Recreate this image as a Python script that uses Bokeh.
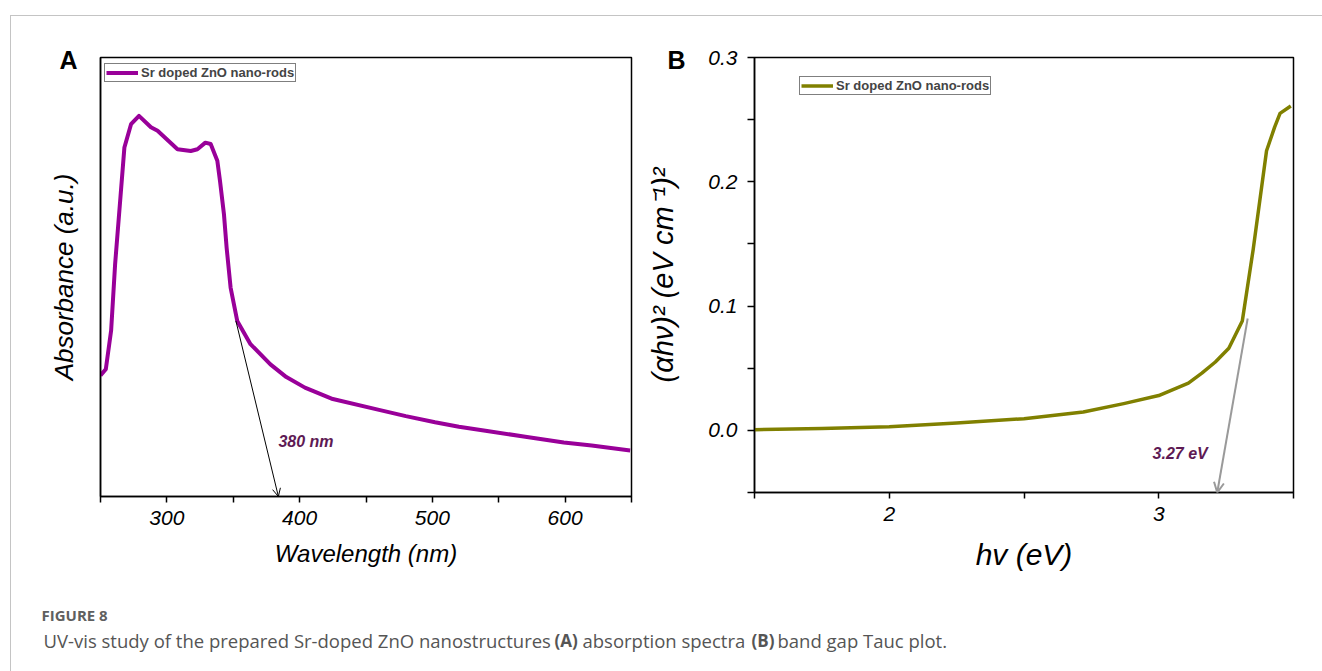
from bokeh.plotting import figure
from bokeh.models import (Range1d, FixedTicker, Label, Arrow, OpenHead, Legend,
                          LegendItem, PrintfTickFormatter, Div, Spacer)
from bokeh.layouts import row, column
from bokeh.embed import file_html
from bokeh.resources import INLINE

# ---------------- data ----------------
# Panel A: absorption spectrum
wavelength_nm = [250, 254, 258, 261, 265, 268, 273, 279, 288, 293, 308, 318, 323,
                 329, 333, 338, 340, 343, 345, 348, 353, 363, 378, 390, 404, 425,
                 459, 480, 502, 520, 540, 570, 599, 620, 649]
absorbance_au = [0.276, 0.290, 0.378, 0.529, 0.681, 0.795, 0.848, 0.867, 0.841, 0.833,
                 0.791, 0.787, 0.791, 0.806, 0.803, 0.765, 0.719, 0.643, 0.567, 0.476,
                 0.400, 0.347, 0.301, 0.272, 0.248, 0.222, 0.198, 0.183, 0.169, 0.159,
                 0.150, 0.136, 0.123, 0.116, 0.105]

# Panel B: Tauc plot
photon_energy_ev = [1.50, 1.75, 2.00, 2.25, 2.50, 2.72, 2.87, 3.00, 3.11, 3.16, 3.21,
                    3.26, 3.31, 3.35, 3.40, 3.43, 3.45, 3.49]
tauc_value = [0.0005, 0.0015, 0.003, 0.006, 0.0094, 0.0147, 0.0215, 0.028, 0.038,
              0.046, 0.055, 0.066, 0.088, 0.145, 0.225, 0.244, 0.255, 0.261]

series_label = "Sr doped ZnO nano-rods"
panel_letters = ["A", "B"]

x_major_a = [300, 400, 500, 600]
x_minor_a = [250, 350, 450, 550, 650]
x_major_b = [2, 3]
x_minor_b = [1.5, 2.5, 3.5]
y_major_b = [0.0, 0.1, 0.2, 0.3]
y_minor_b = [-0.05, 0.05, 0.15, 0.25]

# band-edge tangent arrows (start x, start y, end x, end y) and their labels
edge_arrow_a = (352, 0.40, 384, 0.0)
edge_text_a = ("380 nm", 384, 0.125)
edge_arrow_b = (3.33, 0.09, 3.217, -0.05)
edge_text_b = ("3.27 eV", 2.977, -0.019)

FONT = "Liberation Sans"
PURPLE = "#990099"
OLIVE = "#808000"
NOTE = "#5e1a54"


def style_common(p):
    p.xgrid.grid_line_color = None
    p.ygrid.grid_line_color = None
    p.outline_line_color = "black"
    p.outline_line_width = 1.5
    p.outline_line_alpha = 1
    p.background_fill_color = "white"
    p.border_fill_color = "white"
    for ax in (p.xaxis[0], p.yaxis[0]):
        ax.axis_line_color = "black"
        ax.axis_line_width = 1.5
        ax.major_tick_line_color = "black"
        ax.minor_tick_line_color = "black"
        ax.major_tick_line_width = 1.5
        ax.minor_tick_line_width = 1.5
        ax.major_tick_in = 0
        ax.minor_tick_in = 0
        ax.major_tick_out = 6
        ax.minor_tick_out = 6
        ax.major_label_text_font = FONT
        ax.major_label_text_font_style = "italic"
        ax.major_label_text_font_size = "21px"
        ax.major_label_text_color = "black"
        ax.axis_label_text_font = FONT
        ax.axis_label_text_font_style = "italic"
        ax.axis_label_text_color = "black"


def style_letter(p, offset):
    t = p.title
    t.align = "left"
    t.offset = offset
    t.vertical_align = "bottom"
    t.standoff = -32
    t.text_font = FONT
    t.text_font_style = "bold"
    t.text_font_size = "25px"
    t.text_color = "black"


def make_legend(p, r, loc):
    leg = Legend(items=[LegendItem(label=series_label, renderers=[r])], location=loc)
    leg.border_line_color = "black"
    leg.border_line_width = 1
    leg.background_fill_color = "white"
    leg.background_fill_alpha = 1
    leg.label_text_font = FONT
    leg.label_text_font_style = "bold"
    leg.label_text_font_size = "13px"
    leg.glyph_width = 32
    leg.glyph_height = 15
    leg.label_height = 15
    leg.label_standoff = 3
    leg.padding = 1
    leg.spacing = 0
    leg.margin = 0
    p.add_layout(leg)


# ---------------- Panel A ----------------
pa = figure(title=panel_letters[0], frame_width=531, frame_height=439,
            min_border_left=89, min_border_right=9,
            min_border_top=34, min_border_bottom=101,
            x_range=Range1d(250, 650), y_range=Range1d(0, 1),
            output_backend="svg", toolbar_location=None, tools="")
style_common(pa)
style_letter(pa, -41)
pa.xaxis.ticker = FixedTicker(ticks=x_major_a, minor_ticks=x_minor_a)
pa.xaxis.major_label_standoff = 8
pa.xaxis.axis_label = "Wavelength (nm)"
pa.xaxis.axis_label_text_font_size = "24px"
pa.xaxis.axis_label_standoff = 12
pa.yaxis.ticker = FixedTicker(ticks=[])
pa.yaxis.major_tick_out = 0
pa.yaxis.minor_tick_out = 0
pa.yaxis.axis_label = "Absorbance (a.u.)"
pa.yaxis.axis_label_text_font_size = "26px"
pa.yaxis.axis_label_standoff = 22

ra = pa.line(wavelength_nm, absorbance_au, line_color=PURPLE, line_width=4,
             line_join="round")
make_legend(pa, ra, (4, 414))

pa.add_layout(Arrow(x_start=edge_arrow_a[0], y_start=edge_arrow_a[1],
                    x_end=edge_arrow_a[2], y_end=edge_arrow_a[3],
                    line_color="black", line_width=1,
                    end=OpenHead(size=8, line_color="black", line_width=1)))
pa.add_layout(Label(x=edge_text_a[1], y=edge_text_a[2], text=edge_text_a[0],
                    text_font=FONT, text_font_style="bold italic",
                    text_font_size="16px", text_color=NOTE,
                    text_baseline="middle", text_align="left"))

# ---------------- Panel B ----------------
pb = figure(title=panel_letters[1], frame_width=539, frame_height=435,
            min_border_left=114, min_border_right=29,
            min_border_top=41, min_border_bottom=98,
            x_range=Range1d(1.5, 3.5), y_range=Range1d(-0.05, 0.3),
            output_backend="svg", toolbar_location=None, tools="")
style_common(pb)
style_letter(pb, -87)
pb.xaxis.ticker = FixedTicker(ticks=x_major_b, minor_ticks=x_minor_b)
pb.xaxis.major_label_standoff = 8
pb.xaxis.axis_label = "hv (eV)"
pb.xaxis.axis_label_text_font_size = "30px"
pb.xaxis.axis_label_standoff = 14
pb.yaxis.ticker = FixedTicker(ticks=y_major_b, minor_ticks=y_minor_b)
pb.yaxis.formatter = PrintfTickFormatter(format="%.1f")
pb.yaxis.major_tick_out = 7
pb.yaxis.minor_tick_out = 7
pb.yaxis.major_label_standoff = 10
pb.yaxis.axis_label = "(\u03b1h\u03bd)\u00b2 (eV cm\u207b\u00b9)\u00b2"
pb.yaxis.axis_label_text_font_size = "29px"
pb.yaxis.axis_label_standoff = 26

rb = pb.line(photon_energy_ev, tauc_value, line_color=OLIVE, line_width=3.5,
             line_join="round")
make_legend(pb, rb, (45, 397))

pb.add_layout(Arrow(x_start=edge_arrow_b[0], y_start=edge_arrow_b[1],
                    x_end=edge_arrow_b[2], y_end=edge_arrow_b[3],
                    line_color="#9a9a9a", line_width=2,
                    end=OpenHead(size=10, line_color="#9a9a9a", line_width=2)))
pb.add_layout(Label(x=edge_text_b[1], y=edge_text_b[2], text=edge_text_b[0],
                    text_font=FONT, text_font_style="bold italic",
                    text_font_size="16px", text_color=NOTE,
                    text_baseline="middle", text_align="left"))

# ---------------- caption ----------------
cap = figure(width=1311, height=81, x_range=Range1d(0, 1), y_range=Range1d(0, 1),
             x_axis_location=None, y_axis_location=None, toolbar_location=None,
             tools="", output_backend="svg", min_border=0,
             outline_line_color=None)
cap.xgrid.grid_line_color = None
cap.ygrid.grid_line_color = None
CAPF = "Open Sans"
cap.add_layout(Label(x=30, y=57, x_units="screen", y_units="screen", text="FIGURE 8",
                     text_font=CAPF, text_font_size="15px", text_font_style="bold",
                     text_color="#5f5f5f", text_baseline="middle"))
segments = [("UV-vis study of the prepared Sr-doped ZnO nanostructures", 32, "normal", "18.5px"),
            ("(A)", 543, "bold", "17px"),
            ("absorption spectra", 571, "normal", "18.5px"),
            ("(B)", 740, "bold", "17px"),
            ("band gap Tauc plot.", 766, "normal", "18.5px")]
for txt, xs, st, fs in segments:
    cap.add_layout(Label(x=xs, y=31, x_units="screen", y_units="screen", text=txt,
                         text_font=CAPF, text_font_size=fs, text_font_style=st,
                         text_color="#555555", text_baseline="middle"))

# ---------------- page frame lines ----------------
LINE = "#c4c4c4"
hline = Div(text="", width=1311, height=1, margin=0, styles={"background-color": LINE})
vline = Div(text="", width=1, height=656, margin=0, styles={"background-color": LINE})

root = column(Spacer(height=15, width=1322, margin=0),
              row(Spacer(width=10, height=656, margin=0), vline,
                  column(hline, row(pa, pb, spacing=0), cap, spacing=0),
                  spacing=0),
              spacing=0)

open("out.html", "w").write(file_html(root, INLINE))
